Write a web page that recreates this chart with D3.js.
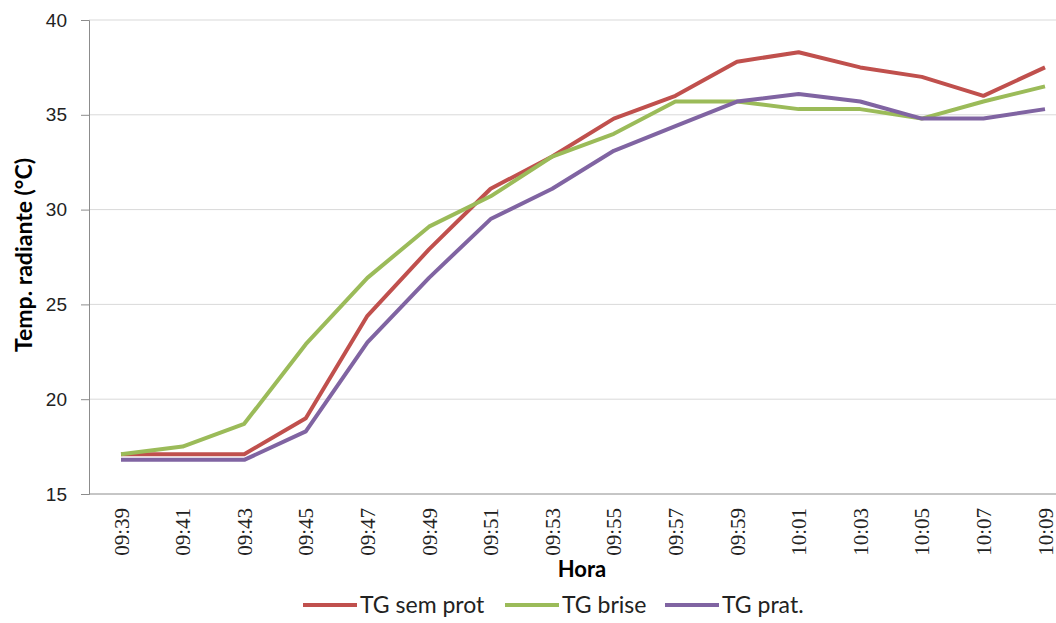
<!DOCTYPE html>
<html>
<head>
<meta charset="utf-8">
<script src="https://cdn.jsdelivr.net/npm/d3@7"></script>
<style>
  body { margin: 0; background: #fff; overflow: hidden; }
  svg { display: block; }
</style>
</head>
<body>
<svg id="chart" width="1056" height="623"></svg>
<script>
// horarios (eixo x)
const horas = ["09:39","09:41","09:43","09:45","09:47","09:49","09:51","09:53",
  "09:55","09:57","09:59","10:01","10:03","10:05","10:07","10:09"];

const semProt = [17.1,17.1,17.1,19.0,24.4,27.9,31.1,32.8,34.8,36.0,37.8,38.3,37.5,37.0,36.0,37.5];
const brise   = [17.1,17.5,18.7,22.9,26.4,29.1,30.7,32.8,34.0,35.7,35.7,35.3,35.3,34.8,35.7,36.5];
const prat    = [16.8,16.8,16.8,18.3,23.0,26.4,29.5,31.1,33.1,34.4,35.7,36.1,35.7,34.8,34.8,35.3];

const yTicks = [15, 20, 25, 30, 35, 40];

const series = [
  { name: "TG sem prot", values: semProt, color: "#c0504d" },
  { name: "TG brise", values: brise, color: "#9bbb59" },
  { name: "TG prat.", values: prat, color: "#8064a2" }
];

const svg = d3.select("#chart");
const mLeft = 89, mTop = 20, mBottom = 494;

const x = d3.scalePoint()
  .domain(horas)
  .range([121, 121 + 61.6 * (horas.length - 1)]);

const y = d3.scaleLinear().domain([15, 40]).range([mBottom, mTop]);

// grid
svg.append("g")
  .selectAll("line")
  .data(yTicks.slice(1))
  .enter().append("line")
  .attr("x1", mLeft).attr("x2", 1056)
  .attr("y1", d => y(d)).attr("y2", d => y(d))
  .attr("stroke", "#d9d9d9").attr("stroke-width", 1);

// eixo y
const yAxis = svg.append("g")
  .attr("transform", `translate(${mLeft},0)`)
  .call(d3.axisLeft(y).tickValues(yTicks).tickSize(8).tickPadding(14));
yAxis.select(".domain").attr("stroke", "#8c8c8c");
yAxis.selectAll(".tick line").attr("stroke", "#8c8c8c");
yAxis.selectAll("text")
  .attr("font-family", "Liberation Sans, sans-serif")
  .attr("font-size", 19).attr("fill", "#222");

// eixo x
const xAxis = svg.append("g")
  .attr("transform", `translate(0,${mBottom})`)
  .call(d3.axisBottom(x).tickSize(0).tickPadding(0));
xAxis.select(".domain").remove();
svg.append("line")
  .attr("x1", mLeft).attr("x2", 1056)
  .attr("y1", mBottom).attr("y2", mBottom)
  .attr("stroke", "#8c8c8c");
xAxis.selectAll("text")
  .attr("font-family", "Liberation Serif, serif")
  .attr("font-size", 21).attr("fill", "#222")
  .attr("text-anchor", "end")
  .attr("transform", "translate(7,14) rotate(-90)")
  .attr("dy", "0")
  .attr("x", 0).attr("y", 0);

// linhas
const line = d3.line()
  .x((d, i) => x(horas[i]))
  .y(d => y(d));

svg.append("g")
  .selectAll("path")
  .data(series)
  .enter().append("path")
  .attr("d", d => line(d.values))
  .attr("fill", "none")
  .attr("stroke", d => d.color)
  .attr("stroke-width", 4)
  .attr("stroke-linejoin", "round");

// titulos dos eixos
svg.append("text")
  .attr("transform", "translate(32,255) rotate(-90)")
  .attr("text-anchor", "middle")
  .attr("font-family", "Lato, sans-serif")
  .attr("font-weight", "bold")
  .attr("font-size", 23)
  .text("Temp. radiante (°C)");

svg.append("text")
  .attr("x", 582).attr("y", 577)
  .attr("text-anchor", "middle")
  .attr("font-family", "Lato, sans-serif")
  .attr("font-weight", "bold")
  .attr("font-size", 22)
  .text("Hora");

// legenda
const legX = [303, 505, 665];
const leg = svg.append("g")
  .selectAll("g")
  .data(series)
  .enter().append("g")
  .attr("transform", (d, i) => `translate(${legX[i]},605)`);
leg.append("line")
  .attr("x1", 0).attr("x2", 54)
  .attr("stroke", d => d.color).attr("stroke-width", 4);
leg.append("text")
  .attr("x", 57).attr("y", 8)
  .attr("font-family", "Lato, sans-serif")
  .attr("font-size", 23).attr("fill", "#222")
  .text(d => d.name);
</script>
</body>
</html>
